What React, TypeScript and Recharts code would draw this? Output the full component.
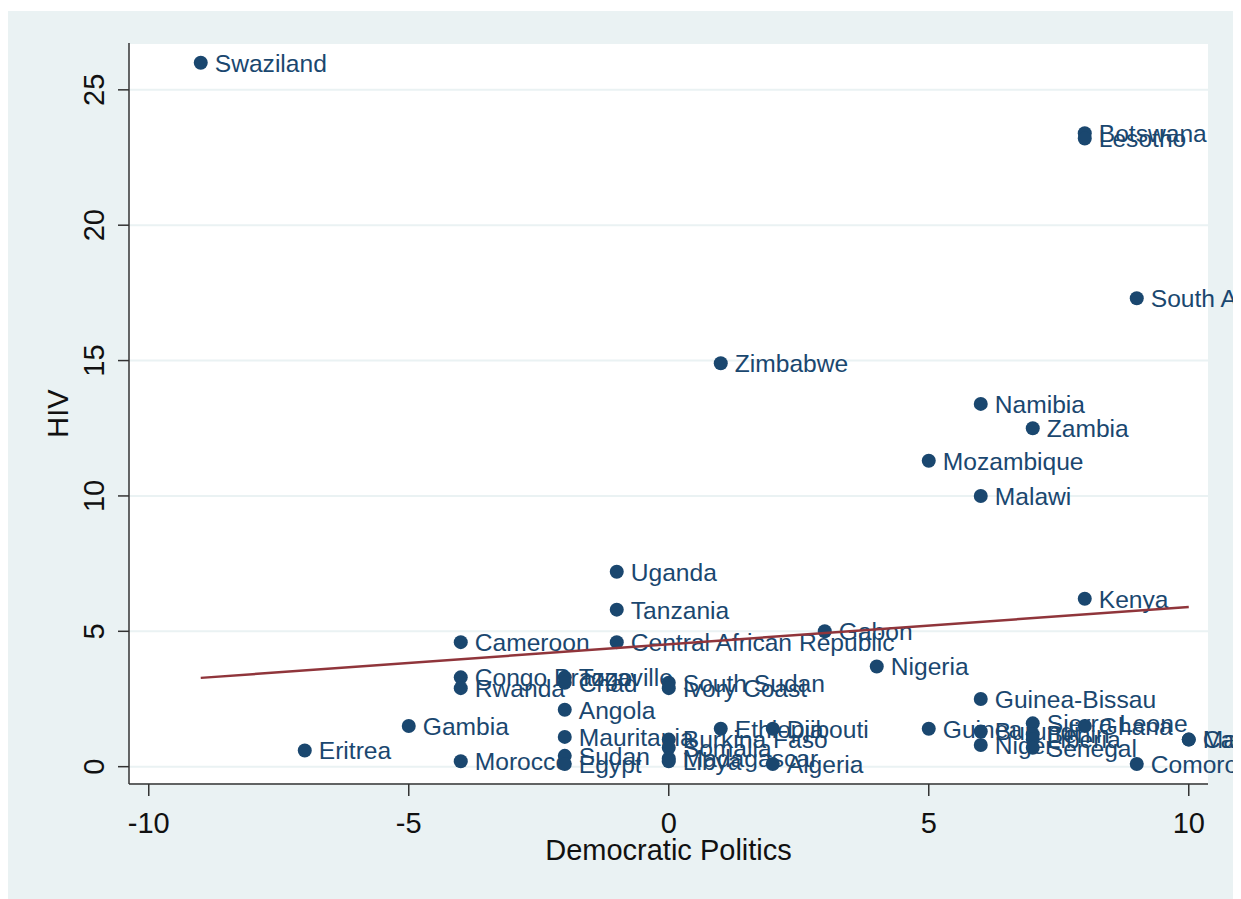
import React from "react";
import { ScatterChart, Scatter, XAxis, YAxis, CartesianGrid } from "recharts";

const countries = [
  "Swaziland", "Botswana", "Lesotho", "South Africa", "Zimbabwe", "Namibia", "Zambia",
  "Mozambique", "Malawi", "Uganda", "Tanzania", "Kenya", "Gabon", "Cameroon",
  "Central African Republic", "Nigeria", "Congo Brazzaville", "Rwanda", "Togo", "Chad",
  "South Sudan", "Ivory Coast", "Angola", "Gambia", "Eritrea", "Morocco", "Mauritania",
  "Sudan", "Egypt", "Burkina Faso", "Somalia", "Madagascar", "Libya", "Ethiopia",
  "Djibouti", "Algeria", "Guinea", "Guinea-Bissau", "Burundi", "Niger", "Sierra Leone",
  "Benin", "Liberia", "Senegal", "Ghana", "Mauritius", "Cape Verde", "Comoros",
];
const democracy = [
  -9, 8, 8, 9, 1, 6, 7,
  5, 6, -1, -1, 8, 3, -4,
  -1, 4, -4, -4, -2, -2,
  0, 0, -2, -5, -7, -4, -2,
  -2, -2, 0, 0, 0, 0, 1,
  2, 2, 5, 6, 6, 6, 7,
  7, 7, 7, 8, 10, 10, 9,
];
const hiv = [
  26.0, 23.4, 23.2, 17.3, 14.9, 13.4, 12.5,
  11.3, 10.0, 7.2, 5.8, 6.2, 5.0, 4.6,
  4.6, 3.7, 3.3, 2.9, 3.3, 3.1,
  3.1, 2.9, 2.1, 1.5, 0.6, 0.2, 1.1,
  0.4, 0.1, 1.0, 0.7, 0.3, 0.2, 1.4,
  1.4, 0.1, 1.4, 2.5, 1.3, 0.8, 1.6,
  1.2, 1.0, 0.7, 1.5, 1.0, 1.0, 0.1,
];
const fitX = [-9, 10];
const fitY = [3.28, 5.9];
const xTicks = [-10, -5, 0, 5, 10];
const yTicks = [0, 5, 10, 15, 20, 25];

const points = countries.map((name, i) => ({ name, x: democracy[i], y: hiv[i] }));
const fitData = fitX.map((x, i) => ({ x, y: fitY[i] }));

const NAVY = "#1a476f";
const BG = "#eaf2f3";
const FONT = "Arial, 'Liberation Sans', sans-serif";

const Dot = (props: any) => {
  const { cx, cy, payload } = props;
  return (
    <g>
      <circle cx={cx} cy={cy} r={7} fill={NAVY} />
      <text x={cx + 14} y={cy} dy="0.36em" fill={NAVY} fontSize={24.6} fontFamily={FONT}>
        {payload.name}
      </text>
    </g>
  );
};

const YTick = (props: any) => {
  const { x, y, payload } = props;
  return (
    <text x={x} y={y} transform={`rotate(-90 ${x} ${y})`} textAnchor="middle" fill="#111" fontSize={29} fontFamily={FONT}>
      {payload.value}
    </text>
  );
};

const XTick = (props: any) => {
  const { x, y, payload } = props;
  return (
    <text x={x} y={y} dy="0.71em" textAnchor="middle" fill="#111" fontSize={29} fontFamily={FONT}>
      {payload.value}
    </text>
  );
};

const XLabel = (props: any) => {
  const { viewBox } = props;
  const cx = viewBox.x + viewBox.width / 2;
  return (
    <text x={cx} y={viewBox.y + 76} textAnchor="middle" fill="#111" fontSize={29} fontFamily={FONT}>
      Democratic Politics
    </text>
  );
};

const YLabel = (props: any) => {
  const { viewBox } = props;
  const cy = viewBox.y + viewBox.height / 2;
  const x = 60;
  return (
    <text x={x} y={cy} transform={`rotate(-90 ${x} ${cy})`} textAnchor="middle" fill="#111" fontSize={29} fontFamily={FONT}>
      HIV
    </text>
  );
};

export default function App() {
  return (
    <div style={{ paddingTop: 3 }}>
      <div style={{ width: 1232, height: 888, background: BG }}>
        <ScatterChart
          width={1232}
          height={888}
          margin={{ top: 32, right: 32, bottom: 35, left: 41 }}
        >
          <CartesianGrid horizontal vertical={false} stroke={BG} strokeWidth={2} fill="#ffffff" />
          <XAxis
            type="number"
            dataKey="x"
            domain={[-10.38, 10.37]}
            ticks={xTicks}
            interval={0}
            height={80}
            tickSize={12}
            tickMargin={16}
            axisLine={{ stroke: "#333", strokeWidth: 1.5 }}
            tickLine={{ stroke: "#333", strokeWidth: 1.5 }}
            tick={<XTick />}
            label={<XLabel />}
          />
          <YAxis
            type="number"
            dataKey="y"
            domain={[-0.64, 26.73]}
            ticks={yTicks}
            interval={0}
            width={80}
            tickSize={11}
            tickMargin={14}
            axisLine={{ stroke: "#333", strokeWidth: 1.5 }}
            tickLine={{ stroke: "#333", strokeWidth: 1.5 }}
            tick={<YTick />}
            label={<YLabel />}
          />
          <Scatter data={points} shape={<Dot />} isAnimationActive={false} />
          <Scatter
            data={fitData}
            line={{ stroke: "#90353b", strokeWidth: 2.5 }}
            shape={() => <g />}
            isAnimationActive={false}
          />
        </ScatterChart>
      </div>
    </div>
  );
}
